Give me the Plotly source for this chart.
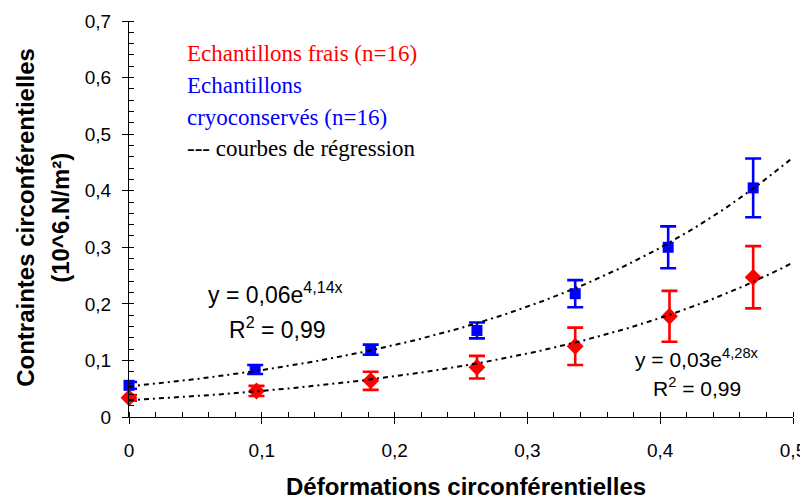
import numpy as np
import plotly.graph_objects as go

# ---- data ----
x_blue = [0.0, 0.095, 0.182, 0.262, 0.336, 0.406, 0.470]
y_blue = [0.056, 0.084, 0.119, 0.153, 0.218, 0.300, 0.405]
err_blue = [0.006, 0.008, 0.009, 0.014, 0.024, 0.037, 0.052]

x_red = [0.0, 0.096, 0.182, 0.262, 0.336, 0.407, 0.470]
y_red = [0.034, 0.046, 0.064, 0.088, 0.125, 0.178, 0.247]
err_red = [0.005, 0.009, 0.016, 0.020, 0.033, 0.045, 0.055]

# regression curve coefficients (y = a*exp(b*x)) as drawn
blue_fit_a, blue_fit_b = 0.054, 4.28
red_fit_a, red_fit_b = 0.0295, 4.45

x_tickvals = [0, 0.1, 0.2, 0.3, 0.4, 0.5]
x_ticktext = ["0", "0,1", "0,2", "0,3", "0,4", "0,5"]
y_tickvals = [0, 0.1, 0.2, 0.3, 0.4, 0.5, 0.6, 0.7]
y_ticktext = ["0", "0,1", "0,2", "0,3", "0,4", "0,5", "0,6", "0,7"]

ARIAL = "Liberation Sans, Arial, sans-serif"
TIMES = "Liberation Serif, Times New Roman, serif"
RED = "#FF0000"
BLUE = "#0000FF"

fig = go.Figure()

fig.add_trace(go.Scatter(
    x=x_red, y=y_red, mode="markers",
    marker=dict(symbol="diamond", size=13, color=RED),
    error_y=dict(type="data", array=err_red, visible=True, color=RED, thickness=2.6, width=8),
    cliponaxis=False, showlegend=False))
fig.add_trace(go.Scatter(
    x=x_blue, y=y_blue, mode="markers",
    marker=dict(symbol="square", size=11, color=BLUE),
    error_y=dict(type="data", array=err_blue, visible=True, color=BLUE, thickness=2.6, width=8),
    cliponaxis=False, showlegend=False))

xs = np.linspace(0, 0.5, 200)
for a, b in [(blue_fit_a, blue_fit_b), (red_fit_a, red_fit_b)]:
    fig.add_trace(go.Scatter(
        x=xs, y=a * np.exp(b * xs), mode="lines",
        line=dict(color="black", width=2, dash="5px,4px,2px,4px"),
        cliponaxis=False, showlegend=False, hoverinfo="skip"))

# invisible trace to bind overlay axes (inner half of major ticks)
fig.add_trace(go.Scatter(x=[None], y=[None], xaxis="x2", yaxis="y2", showlegend=False))

tickfont = dict(family=ARIAL, size=19, color="black")
# page has an 8px body margin, so the figure is 8px smaller and offset
fig.update_layout(
    width=800, height=489,
    margin=dict(l=120.6, r=15.3, t=12.7, b=80.3),
    plot_bgcolor="white", paper_bgcolor="white",
    xaxis=dict(range=[0, 0.5], tickvals=x_tickvals, ticktext=x_ticktext, automargin=False,
               ticks="outside", ticklen=6, tickwidth=1, tickcolor="black", ticklabelstandoff=10,
               showline=True, linecolor="black", linewidth=1,
               showgrid=False, zeroline=False, tickfont=tickfont,
               minor=dict(dtick=0.02, ticks="inside", ticklen=5, tickcolor="black", showgrid=False)),
    yaxis=dict(range=[0, 0.7], tickvals=y_tickvals, ticktext=y_ticktext, automargin=False,
               ticks="outside", ticklen=6, tickwidth=1, tickcolor="black", ticklabelstandoff=7,
               showline=True, linecolor="black", linewidth=1,
               showgrid=False, zeroline=False, tickfont=tickfont,
               minor=dict(dtick=0.02, ticks="inside", ticklen=5, tickcolor="black", showgrid=False)),
    xaxis2=dict(overlaying="x", anchor="y", side="bottom", range=[0, 0.5], tickvals=x_tickvals,
                ticks="inside", ticklen=5, tickcolor="black", showticklabels=False, automargin=False,
                showline=False, showgrid=False, zeroline=False),
    yaxis2=dict(overlaying="y", anchor="x", side="left", range=[0, 0.7], tickvals=y_tickvals,
                ticks="inside", ticklen=5, tickcolor="black", showticklabels=False, automargin=False,
                showline=False, showgrid=False, zeroline=False),
)

ann = []
# axis titles
ann.append(dict(text="<b>Déformations circonférentielles</b>", xref="paper", yref="paper",
                x=0.508, y=-0.175, xanchor="center", yanchor="middle", showarrow=False,
                font=dict(family=ARIAL, size=24, color="black")))
ann.append(dict(text="<b>Contraintes circonférentielles</b>", xref="paper", yref="paper",
                x=-0.156, y=0.504, xanchor="center", yanchor="middle", showarrow=False, textangle=-90,
                font=dict(family=ARIAL, size=24, color="black")))
ann.append(dict(text="<b>(10^6.N/m²)</b>", xref="paper", yref="paper",
                x=-0.1033, y=0.504, xanchor="center", yanchor="middle", showarrow=False, textangle=-90,
                font=dict(family=ARIAL, size=24, color="black")))
# legend-like text
leg = [("Echantillons frais (n=16)", RED, 0.643),
       ("Echantillons", BLUE, 0.586),
       ("cryoconservés (n=16)", BLUE, 0.530),
       ("--- courbes de régression", "black", 0.475)]
for t, c, yy in leg:
    ann.append(dict(text=t, x=0.042, y=yy, xref="x", yref="y", xanchor="left", yanchor="middle",
                    showarrow=False, font=dict(family=TIMES, size=23, color=c)))
# equations
ann.append(dict(text="y = 0,06e<sup>4,14x</sup>", x=0.110, y=0.2185, xref="x", yref="y",
                xanchor="center", yanchor="middle", showarrow=False,
                font=dict(family=ARIAL, size=23, color="black")))
ann.append(dict(text="R<sup>2</sup> = 0,99", x=0.112, y=0.157, xref="x", yref="y",
                xanchor="center", yanchor="middle", showarrow=False,
                font=dict(family=ARIAL, size=23, color="black")))
ann.append(dict(text="y = 0,03e<sup>4,28x</sup>", x=0.4276, y=0.1038, xref="x", yref="y",
                xanchor="center", yanchor="middle", showarrow=False,
                font=dict(family=ARIAL, size=21, color="black")))
ann.append(dict(text="R<sup>2</sup> = 0,99", x=0.428, y=0.0525, xref="x", yref="y",
                xanchor="center", yanchor="middle", showarrow=False,
                font=dict(family=ARIAL, size=21, color="black")))
fig.update_layout(annotations=ann)

fig.write_html("out.html")
